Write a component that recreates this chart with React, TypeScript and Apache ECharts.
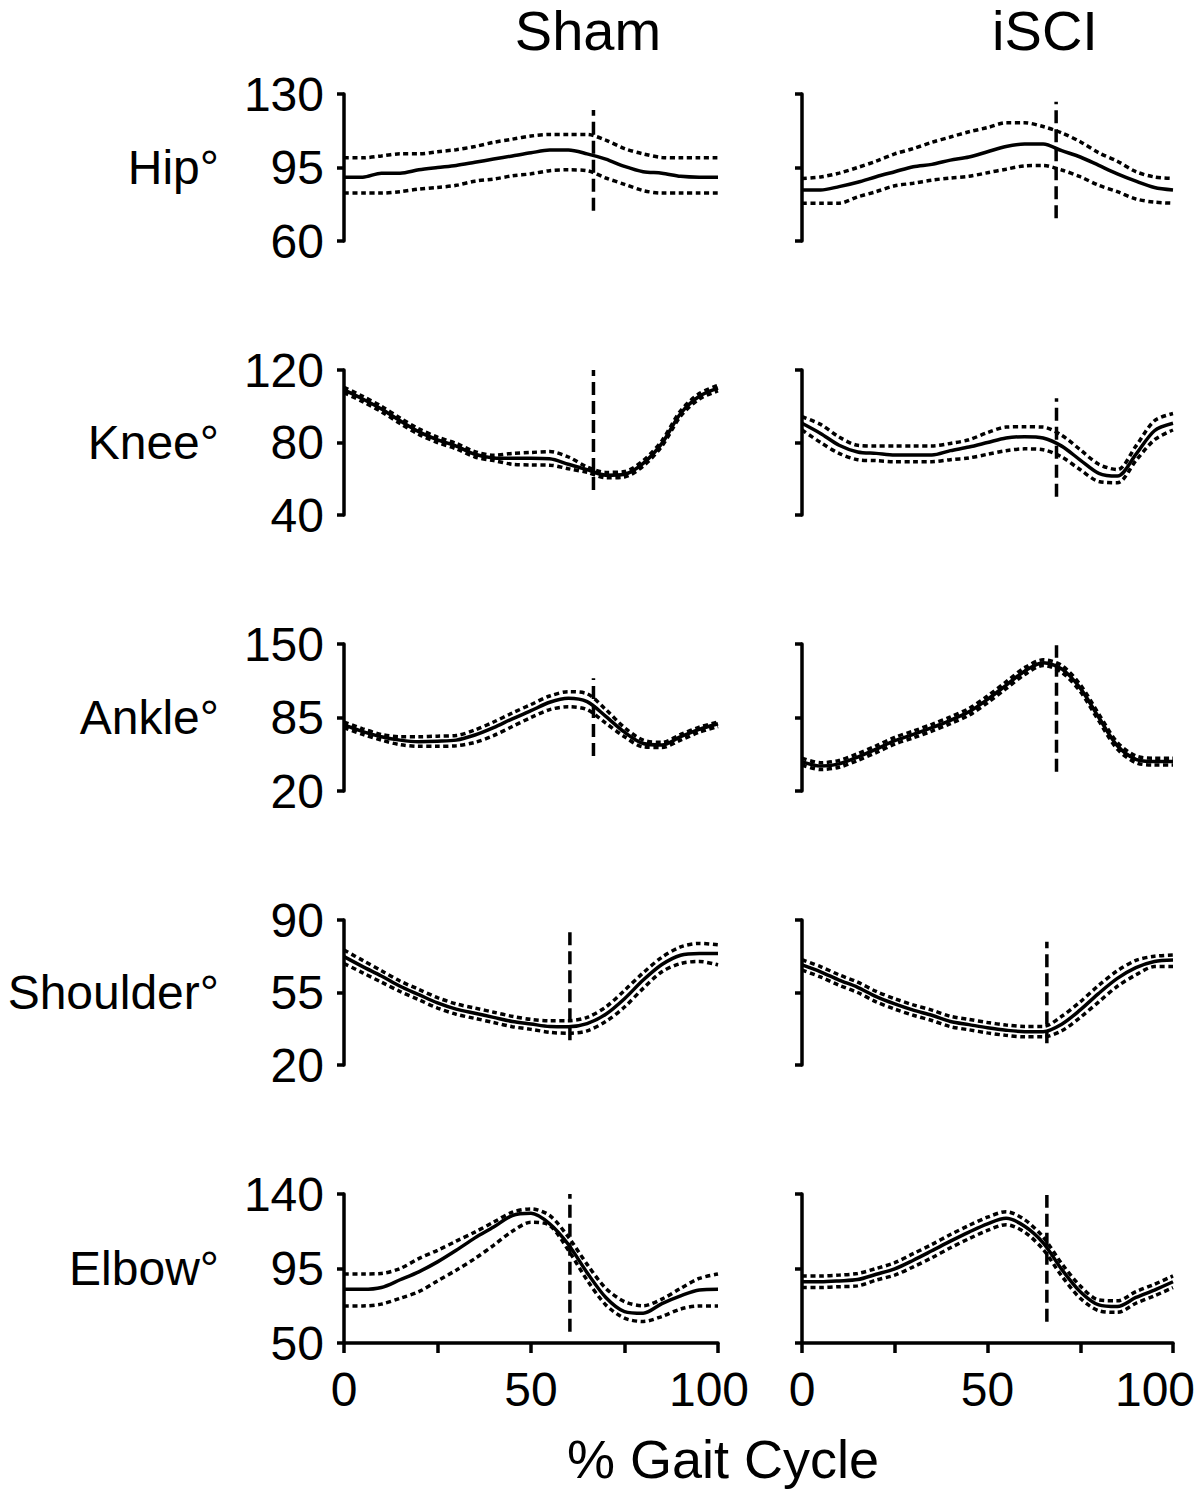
import React, { useEffect, useRef } from "react";
import * as echarts from "echarts";

const pct = [0, 5, 10, 15, 20, 25, 30, 35, 40, 45, 50, 55, 60, 65, 70, 75, 80, 85, 90, 95, 100];

const rowLabels = ["Hip°", "Knee°", "Ankle°", "Shoulder°", "Elbow°"];
const colTitles = ["Sham", "iSCI"];
const yMin = [60, 40, 20, 20, 50];
const yMax = [130, 120, 150, 90, 140];
const xTicks = [0, 25, 50, 75, 100];
const xTickLabels = [0, 50, 100];
const xAxisTitle = "% Gait Cycle";

// Sham
const hipShamMean = [90.4, 90.4, 92.3, 92.3, 93.9, 95, 96, 97.5, 99, 100.5, 102, 103.3, 103.3, 101.5, 99, 95.5, 93, 92.3, 90.8, 90.4, 90.4];
const hipShamUpper = [99.6, 99.6, 100.5, 101.5, 101.5, 102.5, 103.5, 105, 107, 108.5, 110, 110.7, 110.7, 110.7, 108, 104, 101.5, 99.8, 99.6, 99.6, 99.6];
const hipShamLower = [82.8, 82.8, 82.8, 83.5, 84.7, 85.5, 86.5, 88.5, 89.5, 91, 92, 93.5, 93.9, 93.5, 90, 87, 84, 82.8, 82.8, 82.8, 82.8];

const kneeShamMean = [109, 104, 98.5, 92, 86, 81.5, 78, 73.5, 71.5, 71.3, 71.3, 71, 68, 65, 62, 62.5, 68.5, 79.5, 96, 105.5, 110];
const kneeShamUpper = [110.5, 105.5, 100, 93.5, 87.5, 83, 79.5, 75, 73, 74, 74.5, 75, 72, 66.5, 63.5, 64, 70, 81, 97.5, 107, 111.5];
const kneeShamLower = [107.5, 102.5, 97, 90.5, 84.5, 80, 76.5, 72, 70, 68, 67.6, 67.5, 65.5, 63.5, 60.5, 61, 67, 78, 94.5, 104, 108.5];

const ankleShamMean = [78.4, 72.5, 68, 65, 63.6, 64, 65, 69.5, 76, 83.8, 91, 98.5, 102, 99, 86, 72, 62, 60.7, 68, 74.5, 79.5];
const ankleShamUpper = [81, 75, 70, 68, 68, 68.5, 69, 74, 81, 89, 96.5, 104, 107.8, 106, 92, 76, 65, 63, 70, 76.5, 81];
const ankleShamLower = [76, 70, 65, 61, 59.5, 59.5, 60, 63, 69, 77, 85, 92, 94.5, 92, 80, 68, 59, 58.5, 65, 72, 77];

const shoulderShamMean = [72.3, 67.5, 63, 58, 54, 50, 47, 45, 43, 41, 39.8, 38.6, 38.5, 40, 44.5, 52, 61, 68.5, 73, 73.8, 73.8];
const shoulderShamUpper = [75.5, 70.5, 65.5, 60.5, 56.5, 52.5, 49.5, 47.5, 45.5, 43.5, 42, 41.4, 41.4, 43, 48, 56, 64.5, 72, 77, 78.7, 78];
const shoulderShamLower = [69, 64.5, 60, 55.5, 51.5, 47.5, 44.5, 42.5, 40.5, 38.5, 37.2, 35.8, 35.3, 36.5, 41, 48, 57, 65, 69, 70, 68.3];

const elbowShamMean = [82.4, 82.4, 83.5, 88.2, 93, 99, 106, 113.5, 120, 127, 128.3, 122, 109.5, 92.5, 77.5, 69, 68, 73.8, 78.5, 82, 82.4];
const elbowShamUpper = [91.7, 91.7, 92, 95, 101, 106, 111.5, 117, 123, 129, 131, 127, 114, 97.5, 83, 75, 72.5, 76.5, 83, 89, 91.7];
const elbowShamLower = [72.4, 72.4, 73.5, 77, 81, 87.5, 94, 101, 109, 117.5, 123, 121, 106, 88, 73, 65, 63, 66, 70.5, 72.4, 72.4];

// iSCI
const hipSciMean = [84.3, 84.3, 85.9, 88, 90.6, 93, 95.4, 96.5, 98.5, 100, 102.5, 105, 106.2, 106.2, 103, 100, 96, 92, 88.5, 85.5, 84.3];
const hipSciUpper = [89.8, 90.5, 92.3, 95, 98, 101.5, 104, 107, 109.5, 112, 114, 116.3, 116.3, 114.5, 111.5, 107.3, 102, 98, 93, 90.5, 89.8];
const hipSciLower = [78, 78, 78, 81, 83.5, 86.3, 87.5, 89, 90, 90.8, 92.5, 94.2, 95.8, 96, 93.8, 90.6, 86.5, 83.5, 80, 78.5, 78];

const kneeSciMean = [90.6, 85, 78.5, 74.8, 74, 73.1, 73.1, 73.1, 75.5, 77.5, 80, 82.5, 83.2, 82.5, 78, 70.3, 63, 61.5, 73.5, 86.5, 90.6];
const kneeSciUpper = [94.2, 90, 83, 78.5, 78.1, 78.1, 78.1, 78.1, 79.5, 81.5, 85.5, 88.5, 88.7, 88.5, 84, 76, 68, 65, 78, 92, 96];
const kneeSciLower = [86.9, 80, 74, 70.5, 70, 69.4, 69.4, 69.4, 70.5, 71.5, 73.5, 75.5, 76.5, 76, 72, 65, 58.5, 57.8, 70, 81.5, 86.9];

const ankleSciMean = [46, 42, 44, 50, 57, 64.5, 70, 76, 82.5, 90, 101, 113.5, 126, 133.5, 128, 111, 85, 60, 48, 46, 46];
const ankleSciUpper = [49, 45, 47, 53, 60, 67.5, 73, 79, 85.5, 93, 104, 116.5, 129, 136, 131, 114, 88, 63, 51, 49, 49];
const ankleSciLower = [43, 39, 41, 47, 54, 61.5, 67, 73, 79.5, 87, 98, 110.5, 123, 131, 125, 108, 82, 57, 45, 43, 43];

const shoulderSciMean = [68.3, 65, 61, 57.5, 53, 49.5, 46.5, 44, 41, 39.5, 38, 36.8, 36.1, 36.1, 39.7, 46.6, 54.6, 61.8, 67, 70, 70.7];
const shoulderSciUpper = [70.8, 67.5, 63.5, 60, 55.5, 52, 49, 46.5, 43.5, 42, 40.5, 39.3, 38.6, 38.6, 43.5, 50.5, 58.5, 65.5, 70.5, 72.5, 73.1];
const shoulderSciLower = [65.8, 62.5, 58.5, 55, 50.5, 47, 44, 41.5, 38.5, 37, 35.5, 34.3, 33.6, 33.6, 36.5, 43, 50.5, 58, 63.5, 67.5, 67.5];

const elbowSciMean = [87, 87, 87.5, 88.3, 91.5, 94.8, 100, 105.7, 111.5, 117, 122, 125.3, 120.5, 110.5, 94.5, 81, 73, 72, 77.5, 82, 87];
const elbowSciUpper = [90.5, 90.5, 91, 92, 95, 98.5, 104, 109.5, 115.5, 121, 126, 129.3, 124.5, 114, 98, 84.5, 76, 75.5, 81, 85.5, 90.5];
const elbowSciLower = [83.5, 83.5, 84, 84.5, 88, 91, 96, 101.5, 107.5, 113, 118, 121.5, 117, 106.5, 90.5, 77, 69.5, 68.5, 74, 78.5, 83.5];

// toe-off markers: x (% gait), y from, y to
const toeOffSham = [66.7, 66.7, 66.7, 60.4, 60.4];
const toeOffShamY = [[74.4, 122.4], [53.8, 120], [51, 119.7], [32, 86], [56.8, 140]];
const toeOffSci = [68.5, 68.6, 68.6, 66, 66];
const toeOffSciY = [[70.8, 126.3], [50.1, 104.4], [37, 149], [30.5, 79.5], [62.9, 139.4]];

const shamData = [
  [hipShamMean, hipShamUpper, hipShamLower],
  [kneeShamMean, kneeShamUpper, kneeShamLower],
  [ankleShamMean, ankleShamUpper, ankleShamLower],
  [shoulderShamMean, shoulderShamUpper, shoulderShamLower],
  [elbowShamMean, elbowShamUpper, elbowShamLower],
];
const sciData = [
  [hipSciMean, hipSciUpper, hipSciLower],
  [kneeSciMean, kneeSciUpper, kneeSciLower],
  [ankleSciMean, ankleSciUpper, ankleSciLower],
  [shoulderSciMean, shoulderSciUpper, shoulderSciLower],
  [elbowSciMean, elbowSciUpper, elbowSciLower],
];

const FONT = "'Liberation Sans', Arial, Helvetica, sans-serif";

export default function App() {
  const ref = useRef<HTMLDivElement>(null);
  useEffect(() => {
    if (!ref.current) return;
    const chart = echarts.init(ref.current, null, { renderer: "svg" });

    const rowTops = [94, 370, 644, 920, 1194];
    const rowHeights = [147, 145, 147, 145, 149];
    const colLefts = [344, 802];
    const colWidths = [374, 371];
    const maxLabelPad = [18, 36];

    const grids: any[] = [];
    const xAxes: any[] = [];
    const yAxes: any[] = [];
    const series: any[] = [];
    const zip = (arr: number[]) => pct.map((p, i) => [p, arr[i]]);

    for (let r = 0; r < 5; r++) {
      for (let c = 0; c < 2; c++) {
        const idx = grids.length;
        grids.push({
          left: colLefts[c], top: rowTops[r], width: colWidths[c], height: rowHeights[r],
          containLabel: false, outerBoundsMode: "none",
        });
        const mid = (yMin[r] + yMax[r]) / 2;
        const yVals = [yMin[r], mid, yMax[r]];
        const last = r === 4;
        xAxes.push({
          type: "value",
          gridIndex: idx,
          min: 0,
          max: 100,
          interval: 25,
          show: last,
          axisLine: { show: true, onZero: false, lineStyle: { color: "#000", width: 3.5 } },
          axisTick: { show: true, inside: false, length: 10, customValues: xTicks, lineStyle: { color: "#000", width: 3.5 } },
          axisLabel: {
            show: true, customValues: xTickLabels, fontSize: 48, color: "#000", margin: 22, fontFamily: FONT,
            formatter: (v: number) => (v === 100 ? "{m|" + v + "}" : String(v)),
            rich: { m: { fontSize: 48, color: "#000", fontFamily: FONT, padding: [0, maxLabelPad[c], 0, 0] } },
          },
          splitLine: { show: false },
        });
        yAxes.push({
          type: "value",
          gridIndex: idx,
          min: yMin[r],
          max: yMax[r],
          axisLine: { show: true, onZero: false, lineStyle: { color: "#000", width: 3.5 } },
          axisTick: { show: true, inside: false, length: 7, customValues: yVals, lineStyle: { color: "#000", width: 3.5 } },
          axisLabel: { show: c === 0, customValues: yVals, fontSize: 48, color: "#000", margin: 20, fontFamily: FONT, showMinLabel: true, showMaxLabel: true },
          splitLine: { show: false },
        });
        const d = c === 0 ? shamData[r] : sciData[r];
        const dotted = { color: "#000", width: 3.5, type: [5, 3.5] };
        series.push({
          type: "line", xAxisIndex: idx, yAxisIndex: idx, data: zip(d[1]), smooth: 0.3,
          showSymbol: false, symbol: "none", lineStyle: dotted, silent: true, clip: false,
        });
        series.push({
          type: "line", xAxisIndex: idx, yAxisIndex: idx, data: zip(d[2]), smooth: 0.3,
          showSymbol: false, symbol: "none", lineStyle: dotted, silent: true, clip: false,
        });
        series.push({
          type: "line", xAxisIndex: idx, yAxisIndex: idx, data: zip(d[0]), smooth: 0.3,
          showSymbol: false, symbol: "none", lineStyle: { color: "#000", width: 3.5, type: "solid" }, silent: true, clip: false,
        });
        const tx = c === 0 ? toeOffSham[r] : toeOffSci[r];
        const ty = c === 0 ? toeOffShamY[r] : toeOffSciY[r];
        series.push({
          type: "line", xAxisIndex: idx, yAxisIndex: idx, data: [[tx, ty[0]], [tx, ty[1]]],
          showSymbol: false, symbol: "none", lineStyle: { color: "#000", width: 3.5, type: [13, 6] }, silent: true, clip: false,
        });
      }
    }

    const graphic: any[] = [];
    const colCenters = [588, 1045];
    colTitles.forEach((t, i) => {
      graphic.push({
        type: "text", x: colCenters[i], y: 30,
        style: { text: t, fontSize: 56, fill: "#000", textAlign: "center", textVerticalAlign: "middle", fontFamily: FONT },
      });
    });
    rowLabels.forEach((t, r) => {
      graphic.push({
        type: "text", x: 219, y: rowTops[r] + rowHeights[r] / 2,
        style: { text: t, fontSize: 48, fill: "#000", textAlign: "right", textVerticalAlign: "middle", fontFamily: FONT },
      });
    });
    graphic.push({
      type: "text", x: 723, y: 1459,
      style: { text: xAxisTitle, fontSize: 54, fill: "#000", textAlign: "center", textVerticalAlign: "middle", fontFamily: FONT },
    });

    chart.setOption({
      animation: false,
      backgroundColor: "#fff",
      grid: grids,
      xAxis: xAxes,
      yAxis: yAxes,
      series,
      graphic,
    });
    return () => chart.dispose();
  }, []);
  return <div ref={ref} style={{ position: "absolute", left: 0, top: 0, width: 1200, height: 1489 }} />;
}
